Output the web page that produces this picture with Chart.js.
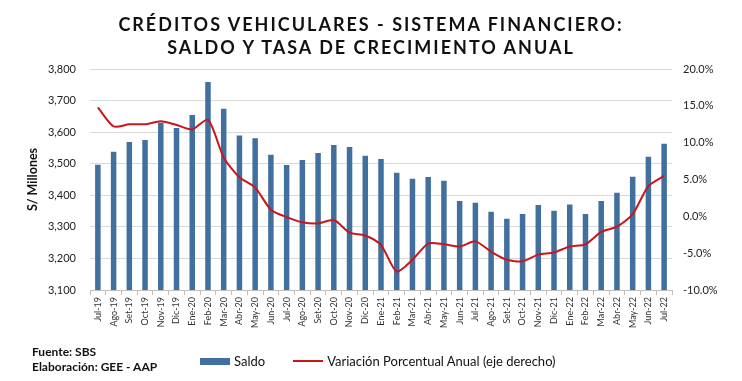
<!DOCTYPE html>
<html><head><meta charset="utf-8">
<script src="https://cdn.jsdelivr.net/npm/chart.js@4"></script>
<style>
body{margin:0;background:#fff;}
#wrap{position:relative;width:742px;height:381px;overflow:hidden;font-family:Lato,sans-serif;color:#111;}
canvas{position:absolute;left:0;top:0;}
#title{position:absolute;left:0;top:13px;width:742px;text-align:center;font-weight:bold;font-size:18px;letter-spacing:2px;line-height:23px;}
#foot{position:absolute;left:32px;top:344px;font-weight:bold;font-size:12px;line-height:15px;}
#legend{position:absolute;top:353px;left:200px;display:flex;align-items:center;font-size:13px;white-space:nowrap;}
.lg-item{display:flex;align-items:center;margin-right:28px;}
.lg-sw{display:inline-block;width:30px;margin-right:4px;}
</style>
</head><body>
<div id="wrap">
<canvas id="c" width="742" height="381"></canvas>
<div id="title">CRÉDITOS VEHICULARES - SISTEMA FINANCIERO:<br>SALDO Y TASA DE CRECIMIENTO ANUAL</div>
<div id="foot">Fuente: SBS<br>Elaboración: GEE - AAP</div>
<div id="legend"></div>
</div>
<script>
const categories = ['Jul-19','Ago-19','Set-19','Oct-19','Nov-19','Dic-19','Ene-20','Feb-20','Mar-20','Abr-20','May-20','Jun-20','Jul-20','Ago-20','Set-20','Oct-20','Nov-20','Dic-20','Ene-21','Feb-21','Mar-21','Abr-21','May-21','Jun-21','Jul-21','Ago-21','Set-21','Oct-21','Nov-21','Dic-21','Ene-22','Feb-22','Mar-22','Abr-22','May-22','Jun-22','Jul-22'];
const saldo = [3497,3538,3569,3575,3630,3613,3654,3759,3674,3589,3581,3528,3496,3512,3534,3559,3553,3525,3515,3471,3452,3458,3446,3382,3376,3348,3326,3341,3369,3351,3371,3341,3382,3408,3459,3522,3563];
const variacion = [14.8,12.2,12.5,12.5,12.9,12.4,11.8,13.1,8.0,5.3,3.9,0.9,-0.1,-0.8,-0.95,-0.5,-2.2,-2.6,-3.9,-7.5,-5.9,-3.7,-3.8,-4.1,-3.4,-4.8,-5.9,-6.1,-5.2,-4.9,-4.1,-3.8,-2.1,-1.4,0.3,4.1,5.5];
const leftTicks = {min:3100, max:3800, step:100};
const rightTicks = {min:-10, max:20, step:5};

const BAR = '#41709E', LINE = '#C8161D';

const htmlLegend = {
  id:'htmlLegend',
  afterUpdate(chart){
    const box = document.getElementById('legend');
    box.innerHTML='';
    chart.data.datasets.forEach(ds=>{
      const it=document.createElement('span'); it.className='lg-item';
      const sw=document.createElement('span'); sw.className='lg-sw';
      if(ds.type==='line'){ sw.style.height='2px'; sw.style.background=ds.borderColor; }
      else { sw.style.height='7px'; sw.style.background=ds.backgroundColor; }
      const tx=document.createElement('span'); tx.textContent=ds.label;
      it.appendChild(sw); it.appendChild(tx); box.appendChild(it);
    });
  }
};

new Chart(document.getElementById('c'), {
  data:{
    labels:categories,
    datasets:[
      {type:'bar', label:'Saldo', data:saldo, backgroundColor:BAR, yAxisID:'y', order:1,
       categoryPercentage:1, barPercentage:0.35},
      {type:'line', label:'Variación Porcentual Anual (eje derecho)', data:variacion, borderColor:LINE,
       backgroundColor:LINE, borderWidth:2, pointRadius:0, tension:0.25, yAxisID:'y1', order:0}
    ]
  },
  options:{
    responsive:false, animation:false, devicePixelRatio:1,
    layout:{padding:{left:13, right:0, top:69, bottom:46}},
    plugins:{legend:{display:false}, tooltip:{enabled:false}, title:{display:false}},
    scales:{
      x:{
        offset:true,
        grid:{display:true, drawOnChartArea:false, drawTicks:true, tickLength:5, color:'#bfbfbf', offset:true},
        border:{display:true, color:'#bfbfbf'},
        ticks:{autoSkip:false, minRotation:90, maxRotation:90, padding:2, color:'#333', font:{family:'Lato', size:9}},
        afterFit(s){ s.height = 45; }
      },
      y:{
        position:'left', min:leftTicks.min, max:leftTicks.max,
        ticks:{stepSize:leftTicks.step, padding:14, color:'#222', font:{family:'Lato', size:11},
          callback:v=>v.toLocaleString('en-US')},
        grid:{color:'#d9d9d9', drawTicks:false},
        border:{display:false},
        title:{display:true, text:'S/ Millones', color:'#111', font:{family:'Lato', size:12.5, weight:'bold'}, padding:{top:12, bottom:0}},
        afterFit(s){ s.width = 77; }
      },
      y1:{
        position:'right', min:rightTicks.min, max:rightTicks.max,
        ticks:{stepSize:rightTicks.step, padding:11, color:'#222', font:{family:'Lato', size:11},
          callback:v=>v.toFixed(1)+'%'},
        grid:{drawOnChartArea:false, drawTicks:false},
        border:{display:false},
        afterFit(s){ s.width = 70; }
      }
    }
  },
  plugins:[htmlLegend]
});
</script>
</body></html>
